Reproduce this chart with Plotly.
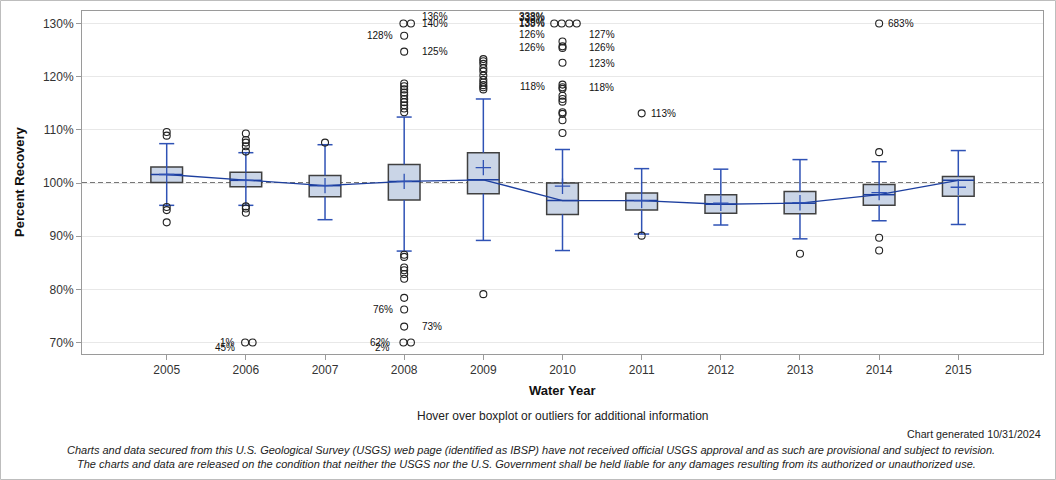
import plotly.graph_objects as go

# ---------------- data ----------------
years = [2005, 2006, 2007, 2008, 2009, 2010, 2011, 2012, 2013, 2014, 2015]
q1 = [100.1, 99.3, 97.4, 96.8, 98.0, 94.1, 94.9, 94.3, 94.2, 95.8, 97.5]
median = [101.6, 100.5, 99.5, 100.3, 100.6, 96.7, 96.7, 96.0, 96.2, 97.8, 100.5]
q3 = [103.0, 102.0, 101.4, 103.5, 105.7, 100.0, 98.1, 97.8, 98.4, 99.7, 101.2]
whisker_lo = [95.8, 95.8, 93.1, 87.2, 89.2, 87.3, 90.4, 92.1, 89.5, 92.9, 92.2]
whisker_hi = [107.4, 105.7, 107.2, 112.4, 115.8, 106.3, 102.7, 102.6, 104.4, 104.0, 106.1]
mean = [101.6, 100.5, 99.5, 100.3, 102.9, 99.4, 96.7, 96.2, 96.3, 98.2, 99.2]

outliers = {
    2005: [109.6, 108.9, 95.5, 94.9, 92.6],
    2006: [109.3, 108.1, 107.6, 106.9, 105.9, 95.6, 95.2, 94.4, 1, 45],
    2007: [107.6],
    2008: [136, 140, 127.7, 124.7, 118.7, 118.2, 117.6, 117.0, 116.5, 115.8,
           115.2, 114.6, 114.0, 113.3, 86.5, 86.1, 84.1, 83.6, 82.9, 82.0,
           78.4, 76.2, 73.0, 62, 2],
    2009: [123.3, 122.9, 122.4, 121.6, 121.0, 120.2, 119.4, 118.9, 118.4,
           118.0, 117.6, 79.1],
    2010: [338, 333, 139, 138, 126.6, 125.7, 125.4, 122.6, 118.5, 118.0, 117.7,
           116.4, 115.8, 115.3, 113.3, 113.0, 111.8, 109.4],
    2011: [113.1, 90.1],
    2012: [],
    2013: [86.7],
    2014: [683, 105.8, 89.7, 87.3],
    2015: [],
}

# outlier labels: year, value position, text, side, vertical nudge (px)
lab_year = [2006, 2006, 2008, 2008, 2008, 2008, 2008, 2008, 2008, 2008,
            2010, 2010, 2010, 2010, 2010, 2010, 2010,
            2010, 2010, 2010, 2010, 2011, 2014]
lab_pos = [70, 70, 70, 70, 76.2, 73.0, 127.7, 124.7, 130, 130,
           130, 130, 130, 130, 127.9, 125.5, 118.2,
           127.9, 125.5, 122.5, 118.0, 113.1, 130]
lab_text = ["1%", "45%", "62%", "2%", "76%", "73%", "128%", "125%", "136%", "140%",
            "338%", "333%", "139%", "138%", "126%", "126%", "118%",
            "127%", "126%", "123%", "118%", "113%", "683%"]
lab_side = ["L", "L", "L", "L", "L", "R", "L", "R", "R", "R",
            "L", "L", "L", "L", "L", "L", "L",
            "R", "R", "R", "R", "R", "R"]
lab_dy = [0, -5, 0, -5, 0, 0, 0, 0, 7, 0,
          7, 6, 1, 0, 0, 0, 0,
          0, 0, 0, 0, 0, 0]

y_ticks = [70, 80, 90, 100, 110, 120, 130]
y_min, y_max = 70, 130

# ---------------- styles ----------------
BOX_FILL = "#CAD5E7"
BOX_EDGE = "#404040"
BLUE = "#2F52B5"
LINE_BLUE = "#1D3F9F"
FONT = "Liberation Sans, Arial, sans-serif"
BOX_W = 0.4
CAP = 0.095
PX_PER_YEAR = 79.2

fig = go.Figure()

# boxes
fig.add_trace(go.Bar(
    x=years, y=[b - a for a, b in zip(q1, q3)], base=q1, width=BOX_W,
    marker=dict(color=BOX_FILL, line=dict(color=BOX_EDGE, width=1.5)),
    hoverinfo="skip", showlegend=False))

# whiskers + caps
wx, wy = [], []
for x, lo, a, b, hi in zip(years, whisker_lo, q1, q3, whisker_hi):
    wx += [x, x, None, x - CAP, x + CAP, None, x, x, None, x - CAP, x + CAP, None]
    wy += [b, hi, None, hi, hi, None, a, lo, None, lo, lo, None]
fig.add_trace(go.Scatter(x=wx, y=wy, mode="lines",
                         line=dict(color=BLUE, width=1.5),
                         hoverinfo="skip", showlegend=False))

# median segments
mx, my = [], []
for x, m in zip(years, median):
    mx += [x - BOX_W / 2, x + BOX_W / 2, None]
    my += [m, m, None]
fig.add_trace(go.Scatter(x=mx, y=my, mode="lines",
                         line=dict(color=LINE_BLUE, width=1.5),
                         hoverinfo="skip", showlegend=False))

# line connecting medians
fig.add_trace(go.Scatter(x=years, y=median, mode="lines",
                         line=dict(color=LINE_BLUE, width=1.3),
                         hoverinfo="skip", showlegend=False))

# means
fig.add_trace(go.Scatter(x=years, y=mean, mode="markers",
                         marker=dict(symbol="cross-thin", size=11,
                                     line=dict(color=BLUE, width=1.3)),
                         hoverinfo="skip", showlegend=False))

# outliers (values beyond the axis are drawn at the axis edge)
ox, oy = [], []
for yr in years:
    vals = outliers[yr]
    hi_c = [v for v in vals if v > y_max]
    lo_c = [v for v in vals if v < y_min]
    inr = [v for v in vals if y_min <= v <= y_max]
    for v in inr:
        ox.append(yr)
        oy.append(v)
    for grp, edge in ((hi_c, y_max), (lo_c, y_min)):
        n = len(grp)
        for i, _ in enumerate(grp):
            off = 0 if n == 1 else (i - (n - 1) / 2) * 7.5 + 3
            ox.append(yr + off / PX_PER_YEAR)
            oy.append(edge)
fig.add_trace(go.Scatter(x=ox, y=oy, mode="markers",
                         marker=dict(symbol="circle-open", size=7, color="#222222",
                                     line=dict(width=1.1, color="#222222")),
                         cliponaxis=False, hoverinfo="skip", showlegend=False))

# reference line at 100 %
fig.add_shape(type="line", xref="paper", x0=0, x1=1, yref="y", y0=100, y1=100,
              line=dict(color="#777777", width=2, dash="5px,3px"), layer="below")

# outlier labels
xs_map = {2006: (-9, 0), 2008: (-9, 16), 2010: (-16, 24), 2011: (0, 7), 2014: (0, 7)}
for yr, pos, txt, side, dy in zip(lab_year, lab_pos, lab_text, lab_side, lab_dy):
    lshift, rshift = xs_map[yr]
    if yr == 2008 and pos == 70:
        lshift = -12
    fig.add_annotation(x=yr, y=pos, text=txt, showarrow=False,
                       xanchor="right" if side == "L" else "left", yanchor="middle",
                       xshift=lshift if side == "L" else rshift, yshift=dy,
                       font=dict(family=FONT, size=10, color="#111111"))

# layout geometry (pixels)
L, R, T, B = 82, 13, 11, 126
W, H = 1056, 480
pw, ph = W - L - R, H - T - B


def px_x(p):
    return (p - L) / pw


def px_y(p):
    return (H - B - p) / ph


# outer frame of the whole image
fig.add_shape(type="rect", xref="paper", yref="paper",
              x0=px_x(0.5), x1=px_x(W - 0.5), y0=px_y(H - 0.5), y1=px_y(0.5),
              line=dict(color="#BDBDBD", width=1), layer="below")

fig.add_annotation(xref="paper", yref="paper", x=px_x(20), y=px_y(182),
                   xanchor="center", yanchor="middle",
                   text="<b>Percent Recovery</b>", textangle=-90, showarrow=False,
                   font=dict(family=FONT, size=13, color="#111111"))
fig.add_annotation(xref="paper", yref="paper", x=0.5, y=px_y(390),
                   xanchor="center", yanchor="middle",
                   text="<b>Water Year</b>", showarrow=False,
                   font=dict(family=FONT, size=13, color="#111111"))
fig.add_annotation(xref="paper", yref="paper", x=0.5, y=px_y(416),
                   xanchor="center", yanchor="middle",
                   text="Hover over boxplot or outliers for additional information",
                   showarrow=False, font=dict(family=FONT, size=12, color="#222222"))
fig.add_annotation(xref="paper", yref="paper", x=1, y=px_y(434),
                   xanchor="right", yanchor="middle",
                   text="Chart generated 10/31/2024", showarrow=False,
                   font=dict(family=FONT, size=10.7, color="#222222"))
fig.add_annotation(xref="paper", yref="paper", x=px_x(531), y=px_y(450),
                   xanchor="center", yanchor="middle",
                   text="<i>Charts and data secured from this U.S. Geological Survey (USGS) web page "
                        "(identified as IBSP) have not received official USGS approval and as such "
                        "are provisional and subject to revision.</i>",
                   showarrow=False, font=dict(family=FONT, size=11, color="#222222"))
fig.add_annotation(xref="paper", yref="paper", x=px_x(526), y=px_y(464),
                   xanchor="center", yanchor="middle",
                   text="<i>The charts and data are released on the condition that neither the USGS "
                        "nor the U.S. Government shall be held liable for any damages resulting "
                        "from its authorized or unauthorized use.</i>",
                   showarrow=False, font=dict(family=FONT, size=11, color="#222222"))

fig.update_layout(
    width=W, height=H,
    margin=dict(l=L, r=R, t=T, b=B),
    paper_bgcolor="white", plot_bgcolor="white",
    font=dict(family=FONT, size=12, color="#333333"),
    showlegend=False, barmode="overlay",
    xaxis=dict(range=[2003.93, 2016.07], tickmode="array", tickvals=years,
               ticktext=[str(y) for y in years], showgrid=False, zeroline=False,
               showline=True, linecolor="#9A9A9A", linewidth=1, mirror=True,
               ticks="outside", ticklen=5, tickcolor="#9A9A9A",
               tickfont=dict(family=FONT, size=12, color="#333333")),
    yaxis=dict(range=[67.844, 132.344], tickmode="array", tickvals=y_ticks,
               ticktext=[f"{v}%" for v in y_ticks], showgrid=True,
               gridcolor="#E8E8E8", gridwidth=1, zeroline=False,
               showline=True, linecolor="#9A9A9A", linewidth=1, mirror=True,
               ticks="outside", ticklen=5, tickcolor="#9A9A9A",
               tickfont=dict(family=FONT, size=12, color="#333333")),
)

fig.write_html("out.html", config={"displayModeBar": False},
               post_script="document.body.style.margin='0';document.body.style.overflow='hidden';")
